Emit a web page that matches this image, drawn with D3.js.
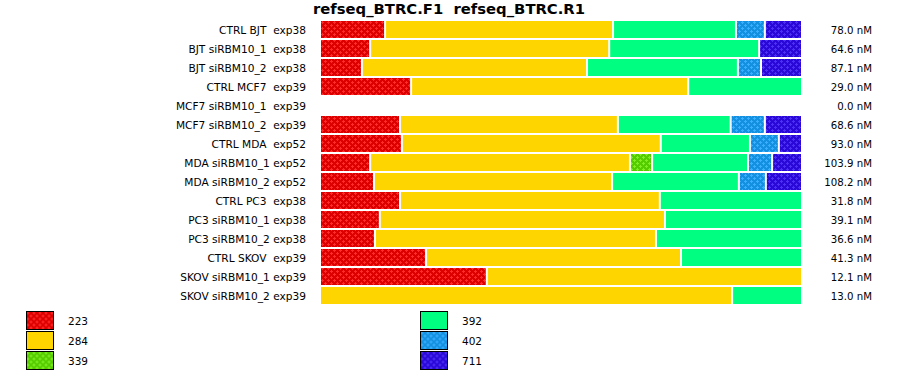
<!DOCTYPE html>
<html>
<head>
<meta charset="utf-8">
<script src="https://cdn.jsdelivr.net/npm/d3@7"></script>
<style>
  body { margin: 0; background: #fff; }
  svg text { font-family: "DejaVu Sans", Verdana, sans-serif; white-space: pre; }
</style>
</head>
<body>
<div id="chart"></div>
<script>
"use strict";

// samples, top to bottom
const samples = [
  "CTRL BJT  exp38", "BJT siRBM10_1  exp38", "BJT siRBM10_2  exp38", "CTRL MCF7  exp39",
  "MCF7 siRBM10_1  exp39", "MCF7 siRBM10_2  exp39", "CTRL MDA  exp52", "MDA siRBM10_1 exp52",
  "MDA siRBM10_2 exp52", "CTRL PC3  exp38", "PC3 siRBM10_1 exp38", "PC3 siRBM10_2 exp38",
  "CTRL SKOV  exp39", "SKOV siRBM10_1 exp39", "SKOV siRBM10_2 exp39"
];
const totals = ["78.0 nM", "64.6 nM", "87.1 nM", "29.0 nM", "0.0 nM", "68.6 nM", "93.0 nM",
  "103.9 nM", "108.2 nM", "31.8 nM", "39.1 nM", "36.6 nM", "41.3 nM", "12.1 nM", "13.0 nM"];

// fragment sizes (legend keys)
const keys = ["223", "284", "339", "392", "402", "711"];

// share of each fragment per sample (%)
const s223 = [13.5, 10.4, 8.7, 18.9, 0, 16.6, 17.0, 10.4, 11.2, 16.6, 12.4, 11.4, 22.0, 34.6, 0];
const s284 = [47.3, 49.6, 46.7, 57.5, 0, 45.2, 53.7, 53.9, 49.4, 53.9, 59.1, 58.3, 52.9, 65.4, 85.5];
const s339 = [0, 0, 0, 0, 0, 0, 0, 4.6, 0, 0, 0, 0, 0, 0, 0];
const s392 = [25.5, 31.1, 31.3, 23.6, 0, 23.4, 18.5, 19.9, 26.3, 29.5, 28.4, 30.3, 25.1, 0, 14.5];
const s402 = [6.0, 0, 4.8, 0, 0, 7.1, 6.0, 5.0, 5.6, 0, 0, 0, 0, 0, 0];
const s711 = [7.7, 8.9, 8.5, 0, 0, 7.7, 4.8, 6.2, 7.5, 0, 0, 0, 0, 0, 0];

const width = 900, height = 375;

const svg = d3.select("#chart").append("svg")
  .attr("width", width)
  .attr("height", height);

// patterns: [base, dots] or null for flat fill
const fills = {
  "223": ["#dd0000", "#ff2a2a"],
  "284": ["#ffd500", null],
  "339": ["#55cc00", "#7fee22"],
  "392": ["#00ff80", null],
  "402": ["#1490e0", "#3aaeff"],
  "711": ["#2a08d8", "#4c30f4"]
};

const defs = svg.append("defs");
keys.forEach(k => {
  const f = fills[k];
  if (!f[1]) return;
  const p = defs.append("pattern")
    .attr("id", "pat" + k)
    .attr("patternUnits", "userSpaceOnUse")
    .attr("width", 6).attr("height", 6);
  p.append("rect").attr("width", 6).attr("height", 6).attr("fill", f[0]);
  [[0, 0], [3, 3]].forEach(([ox, oy]) => {
    p.append("path")
      .attr("d", `M${ox + 1},${oy}h1v1h1v1h-1v1h-1v-1h-1v-1h1z`)
      .attr("fill", f[1]);
  });
});
const fillOf = k => fills[k][1] ? `url(#pat${k})` : fills[k][0];

const table = samples.map((s, i) => ({
  sample: s,
  "223": s223[i], "284": s284[i], "339": s339[i],
  "392": s392[i], "402": s402[i], "711": s711[i]
}));

const series = d3.stack().keys(keys).offset(d3.stackOffsetExpand)(table);

const x = d3.scaleLinear().domain([0, 1]).range([321, 803]);
const y = d3.scaleBand().domain(samples).range([20, 305]).paddingInner(2 / 19).paddingOuter(1 / 19);

// title
svg.append("text")
  .attr("x", 449)
  .attr("y", 14)
  .attr("text-anchor", "middle")
  .style("font-size", "14.8px")
  .style("font-weight", "bold")
  .text("refseq_BTRC.F1  refseq_BTRC.R1");

// bars
svg.selectAll("g.series")
  .data(series)
  .enter()
  .append("g")
  .attr("class", "series")
  .attr("fill", d => fillOf(d.key))
  .selectAll("rect")
  .data(d => d.filter(v => x(v[1]) - x(v[0]) - 2 > 0))
  .enter()
  .append("rect")
  .attr("x", d => x(d[0]))
  .attr("y", d => y(d.data.sample))
  .attr("width", d => x(d[1]) - x(d[0]) - 2)
  .attr("height", y.bandwidth());

// sample labels
svg.selectAll("text.label")
  .data(samples)
  .enter()
  .append("text")
  .attr("class", "label")
  .attr("x", 306)
  .attr("y", d => y(d) + y.bandwidth() / 2 + 4)
  .attr("text-anchor", "end")
  .style("font-size", "10.6px")
  .text(d => d);

// totals on the right
svg.selectAll("text.total")
  .data(totals)
  .enter()
  .append("text")
  .attr("class", "total")
  .attr("x", 872)
  .attr("y", (d, i) => y(samples[i]) + y.bandwidth() / 2 + 4)
  .attr("text-anchor", "end")
  .style("font-size", "10.2px")
  .text(d => d);

// legend
const legend = svg.selectAll("g.legend")
  .data(keys)
  .enter()
  .append("g")
  .attr("class", "legend")
  .attr("transform", (d, i) => `translate(${i < 3 ? 26.5 : 420.5},${311.5 + (i % 3) * 20})`);

legend.append("rect")
  .attr("width", 27)
  .attr("height", 18)
  .attr("fill", d => fillOf(d))
  .attr("stroke", "#000")
  .attr("stroke-width", 1);

legend.append("text")
  .attr("x", 41.5)
  .attr("y", 13.5)
  .style("font-size", "10.5px")
  .text(d => d);
</script>
</body>
</html>
